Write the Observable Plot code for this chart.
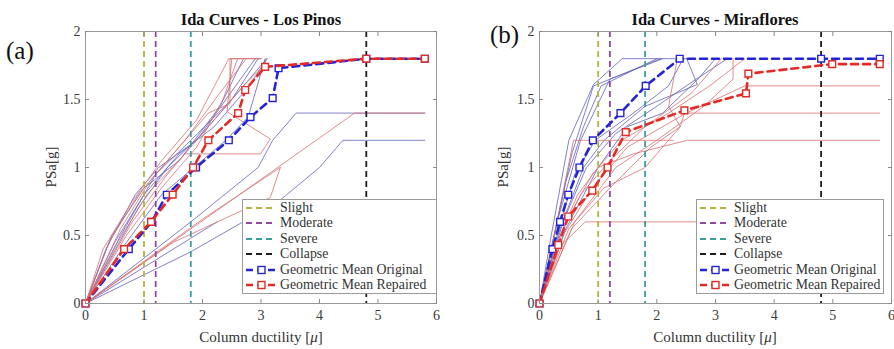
<!DOCTYPE html>
<html><head><meta charset="utf-8">
<script src="https://cdn.jsdelivr.net/npm/d3@7"></script>
<script src="https://cdn.jsdelivr.net/npm/@observablehq/plot@0.6"></script>
<style>
body{margin:0;background:#fff;}
#root{position:relative;width:894px;height:349px;overflow:hidden;font-family:"Liberation Serif","Times New Roman",serif;color:#222;}
.panel{position:absolute;top:0;width:447px;height:349px;}
.panel svg{position:absolute;left:0;top:0;overflow:visible;}
.abs{position:absolute;white-space:nowrap;line-height:1;}
.title{font-weight:bold;font-size:16.5px;transform:translate(-50%,-50%);color:#111;}
.tag{font-size:25px;transform:translateY(-50%);color:#111;}
.ylab{font-size:15px;transform:translate(-50%,-50%) rotate(-90deg);color:#333;}
.xlab{font-size:15px;transform:translate(-50%,-50%);color:#333;}
.legend{position:absolute;background:#fff;border:1px solid #9a9a9a;box-sizing:border-box;height:95px;padding-top:0;overflow:hidden;}
.legend .row{height:15.5px;display:flex;align-items:center;font-size:13.8px;color:#333;white-space:nowrap;}
.legend svg{position:static;margin-left:2px;margin-right:3px;flex:none;}
[aria-label="x-axis tick"],[aria-label="y-axis tick"]{stroke:#8a8a8a;}
[aria-label="x-axis tick label"],[aria-label="y-axis tick label"]{fill:#3a3a3a;}
</style></head>
<body><div id="root"></div>
<script>
// ---------- data ----------
const xTicks = [0, 1, 2, 3, 4, 5, 6];
const yTicks = [0, 0.5, 1, 1.5, 2];
const stateNames = ["Slight", "Moderate", "Severe", "Collapse"];
const stateMu = [1, 1.2, 1.8, 4.8];
const meanNames = ["Geometric Mean Original", "Geometric Mean Repaired"];

// Los Pinos – individual IDA curves [mu, PSa]
const lpOriginalCurves = [
  [[0,0],[0.35,0.4],[0.85,0.8],[1.25,1.0],[1.9,1.2],[2.9,1.8],[3.0,1.8]],
  [[0,0],[0.5,0.45],[1.0,0.8],[1.6,1.1],[2.2,1.3],[2.8,1.6],[3.1,1.8]],
  [[0,0],[0.6,0.5],[1.2,0.95],[1.8,1.2],[2.5,1.5],[2.95,1.8]],
  [[0,0],[0.7,0.45],[1.3,0.8],[1.8,0.98],[2.4,1.2],[2.78,1.37],[3.07,1.8]],
  [[0,0],[2.25,0.6]],
  [[0,0],[1.8,0.6],[2.95,1.0],[3.2,1.2],[3.6,1.4],[5.8,1.4]],
  [[0,0],[1.8,0.38],[3.3,0.75],[4.0,1.0],[4.4,1.2],[5.8,1.2]],
  [[0,0],[0.9,0.7],[1.4,1.0],[2.0,1.25],[2.6,1.55],[3.1,1.8]],
  [[0,0],[0.45,0.5],[1.0,0.85],[1.6,1.05],[2.3,1.45],[2.7,1.8]]
];
const lpRepairedCurves = [
  [[0,0],[0.3,0.4],[0.8,0.75],[1.3,1.05],[1.9,1.35],[2.45,1.8],[3.0,1.8]],
  [[0,0],[0.55,0.45],[1.05,0.8],[1.7,1.1],[2.99,1.1],[3.16,1.21],[2.42,1.41],[2.5,1.8]],
  [[0,0],[0.7,0.5],[1.3,0.85],[1.9,1.15],[2.35,1.5],[2.6,1.8]],
  [[0,0],[4.6,1.4],[5.8,1.4]],
  [[0,0],[1.5,0.45],[3.16,0.78],[3.33,1.0]],
  [[0,0],[2.0,0.62],[3.33,1.0]],
  [[0,0],[0.4,0.45],[0.9,0.8],[1.5,1.1],[2.1,1.4],[2.47,1.47],[2.47,1.8],[2.9,1.8]],
  [[0,0],[0.6,0.55],[1.1,0.9],[1.7,1.2],[2.3,1.55],[2.75,1.8]],
  [[0,0],[0.8,0.6],[1.4,0.95],[2.0,1.25],[2.7,1.6],[3.05,1.75],[3.1,1.8]]
];
// Los Pinos – geometric means
const lpMeanOrigMu  = [0, 0.74, 1.13, 1.39, 1.89, 2.45, 2.82, 3.2, 3.3, 4.8, 5.8];
const lpMeanOrigPSa = [0, 0.4, 0.6, 0.8, 1.0, 1.2, 1.37, 1.51, 1.73, 1.8, 1.8];
const lpMeanRepMu   = [0, 0.66, 1.12, 1.49, 1.84, 2.1, 2.61, 2.73, 3.07, 4.8, 5.8];
const lpMeanRepPSa  = [0, 0.4, 0.6, 0.8, 1.0, 1.2, 1.4, 1.57, 1.74, 1.8, 1.8];

// Miraflores – individual IDA curves [mu, PSa]
const mfOriginalCurves = [
  [[0,0],[0.2,0.5],[0.5,1.2],[0.92,1.61],[1.41,1.8],[2.6,1.8]],
  [[0,0],[0.25,0.5],[0.55,1.1],[0.92,1.6],[2.06,1.8]],
  [[0,0],[0.3,0.6],[0.7,1.2],[1.2,1.65],[2.1,1.8]],
  [[0,0],[0.3,0.5],[0.6,0.95],[0.95,1.2],[1.6,1.4],[2.2,1.6],[2.45,1.8]],
  [[0,0],[0.35,0.55],[0.75,1.0],[1.1,1.2],[1.8,1.45],[2.69,1.61],[2.51,1.8]],
  [[0,0],[0.4,0.6],[0.8,1.0],[1.3,1.25],[2.0,1.45],[2.5,1.6],[3.2,1.8]],
  [[0,0],[0.45,0.55],[1.0,1.0],[1.5,1.3],[2.1,1.4],[2.7,1.65],[3.0,1.8]],
  [[0,0],[0.2,0.4],[0.45,0.9],[0.75,1.3],[1.05,1.6],[2.0,1.8]]
];
const mfRepairedCurves = [
  [[0,0],[0.35,0.42],[0.78,0.6],[5.8,0.6]],
  [[0,0],[0.35,0.5],[0.65,0.8],[1.0,1.0],[1.6,1.1],[2.52,1.2],[5.8,1.2]],
  [[0,0],[0.25,0.5],[0.58,1.2],[2.28,1.2]],
  [[0,0],[0.5,0.55],[1.1,0.85],[1.8,1.0],[2.4,1.3],[2.47,1.4],[5.8,1.4]],
  [[0,0],[0.4,0.5],[0.9,0.85],[1.5,1.15],[2.5,1.4],[3.5,1.6],[5.8,1.6]],
  [[0,0],[0.45,0.6],[0.9,0.95],[1.4,1.2],[2.2,1.4],[2.9,1.6],[3.5,1.8]],
  [[0,0],[0.55,0.55],[1.2,0.85],[1.9,1.15],[2.4,1.3],[2.2,1.45],[2.35,1.8]],
  [[0,0],[0.3,0.45],[0.7,0.8],[1.2,1.05],[1.8,1.3],[2.6,1.55],[3.1,1.8]],
  [[0,0],[0.6,0.6],[1.3,1.0],[2.0,1.2],[2.8,1.45],[3.3,1.65],[3.3,1.8]]
];
// Miraflores – geometric means
const mfMeanOrigMu  = [0, 0.22, 0.35, 0.49, 0.68, 0.91, 1.38, 1.81, 2.39, 4.8, 5.8];
const mfMeanOrigPSa = [0, 0.4, 0.6, 0.8, 1.0, 1.2, 1.4, 1.6, 1.8, 1.8, 1.8];
const mfMeanRepMu   = [0, 0.32, 0.49, 0.9, 1.16, 1.47, 2.47, 3.52, 3.56, 4.99, 5.8];
const mfMeanRepPSa  = [0, 0.43, 0.64, 0.83, 1.0, 1.26, 1.42, 1.545, 1.69, 1.76, 1.76];

// ---------- styles ----------
const stateColors = ["#b3b33e", "#8e4a9e", "#3b9f9f", "#1e1e1e"];
const origColor = "#2424d6", repColor = "#e42a24";
const origThin = "#6161bb", repThin = "#d87070";
const FONT = '"Liberation Serif","Times New Roman",serif';

function flatten(curves) {
  const rows = [];
  curves.forEach((c, i) => c.forEach(([mu, psa]) => rows.push({id: i, mu, psa})));
  return rows;
}
function zipMean(mu, psa) { return mu.map((m, i) => ({mu: m, psa: psa[i]})); }

function makePlot(cfg) {
  const origMean = zipMean(cfg.meanOrigMu, cfg.meanOrigPSa);
  const repMean = zipMean(cfg.meanRepMu, cfg.meanRepPSa);
  return Plot.plot({
    width: 447, height: 349,
    marginLeft: cfg.marginLeft, marginRight: cfg.marginRight, marginTop: 31, marginBottom: 46,
    x: {domain: [0, 6]}, y: {domain: [0, 2]},
    style: {fontFamily: FONT, fontSize: "14px", background: "transparent", overflow: "visible"},
    marks: [
      Plot.line(flatten(cfg.orig), {x: "mu", y: "psa", z: "id", stroke: origThin, strokeWidth: 1, strokeOpacity: 0.8}),
      Plot.line(flatten(cfg.rep), {x: "mu", y: "psa", z: "id", stroke: repThin, strokeWidth: 1, strokeOpacity: 0.8}),
      ...stateMu.map((m, i) => Plot.ruleX([m], {stroke: stateColors[i], strokeWidth: 1.8, strokeDasharray: "6,4"})),
      Plot.line(origMean, {x: "mu", y: "psa", stroke: origColor, strokeWidth: 2.6, strokeDasharray: "7,5"}),
      Plot.dot(origMean, {x: "mu", y: "psa", symbol: "square", r: 3.8, stroke: origColor, strokeWidth: 1.4, fill: "white"}),
      Plot.line(repMean, {x: "mu", y: "psa", stroke: repColor, strokeWidth: 2.6, strokeDasharray: "7,5"}),
      Plot.dot(repMean, {x: "mu", y: "psa", symbol: "square", r: 3.8, stroke: repColor, strokeWidth: 1.4, fill: "white"}),
      Plot.frame({stroke: "#9a9a9a"}),
      Plot.axisX(xTicks, {anchor: "bottom", tickSize: -4, tickPadding: 11, label: null, tickFormat: d => String(d)}),
      Plot.axisX(xTicks, {anchor: "top", tickSize: -4, label: null, tickFormat: () => ""}),
      Plot.axisY(yTicks, {anchor: "left", tickSize: -4, tickPadding: 9, label: null, tickFormat: d => String(d)}),
      Plot.axisY(yTicks, {anchor: "right", tickSize: -4, label: null, tickFormat: () => ""})
    ]
  });
}

function swatch(kind, color) {
  const ns = "http://www.w3.org/2000/svg";
  const s = document.createElementNS(ns, "svg");
  s.setAttribute("width", 32); s.setAttribute("height", 12);
  const l = document.createElementNS(ns, "line");
  l.setAttribute("x1", 1); l.setAttribute("x2", 31); l.setAttribute("y1", 6); l.setAttribute("y2", 6);
  l.setAttribute("stroke", color);
  l.setAttribute("stroke-width", kind === "mean" ? 2.4 : 1.8);
  l.setAttribute("stroke-dasharray", kind === "mean" ? "7,4" : "6,4");
  s.appendChild(l);
  if (kind === "mean") {
    const r = document.createElementNS(ns, "rect");
    r.setAttribute("x", 13); r.setAttribute("y", 2.5); r.setAttribute("width", 7); r.setAttribute("height", 7);
    r.setAttribute("fill", "white"); r.setAttribute("stroke", color); r.setAttribute("stroke-width", 1.4);
    s.appendChild(r);
  }
  return s;
}

function addText(parent, cls, html, left, top) {
  const d = document.createElement("div");
  d.className = "abs " + cls;
  d.innerHTML = html;
  d.style.left = left + "px"; d.style.top = top + "px";
  parent.appendChild(d);
}

function buildPanel(cfg) {
  const p = document.createElement("div");
  p.className = "panel";
  p.style.left = cfg.left + "px";
  p.appendChild(makePlot(cfg));
  addText(p, "title", cfg.title, cfg.cx, 20);
  addText(p, "tag", cfg.tag, cfg.tagX, cfg.tagY);
  addText(p, "ylab", "PSa[g]", cfg.ylabX, 167);
  addText(p, "xlab", "Column ductility [<i>μ</i>]", cfg.cx, 337);
  const lg = document.createElement("div");
  lg.className = "legend";
  lg.style.left = cfg.legLeft + "px"; lg.style.top = "199px"; lg.style.width = cfg.legWidth + "px";
  stateNames.forEach((n, i) => {
    const row = document.createElement("div"); row.className = "row";
    row.appendChild(swatch("state", stateColors[i]));
    row.appendChild(document.createTextNode(n));
    lg.appendChild(row);
  });
  [origColor, repColor].forEach((c, i) => {
    const row = document.createElement("div"); row.className = "row";
    row.appendChild(swatch("mean", c));
    row.appendChild(document.createTextNode(meanNames[i]));
    lg.appendChild(row);
  });
  p.appendChild(lg);
  document.getElementById("root").appendChild(p);
}

buildPanel({
  left: 0, marginLeft: 85, marginRight: 11, title: "Ida Curves - Los Pinos", tag: "(a)",
  cx: 261, tagX: 6, tagY: 50, ylabX: 51, legLeft: 242, legWidth: 195,
  orig: lpOriginalCurves, rep: lpRepairedCurves,
  meanOrigMu: lpMeanOrigMu, meanOrigPSa: lpMeanOrigPSa, meanRepMu: lpMeanRepMu, meanRepPSa: lpMeanRepPSa
});
buildPanel({
  left: 447, marginLeft: 92, marginRight: 3, title: "Ida Curves - Miraflores", tag: "(b)",
  cx: 268, tagX: 43, tagY: 34, ylabX: 56, legLeft: 249, legWidth: 188,
  orig: mfOriginalCurves, rep: mfRepairedCurves,
  meanOrigMu: mfMeanOrigMu, meanOrigPSa: mfMeanOrigPSa, meanRepMu: mfMeanRepMu, meanRepPSa: mfMeanRepPSa
});
</script></body></html>
